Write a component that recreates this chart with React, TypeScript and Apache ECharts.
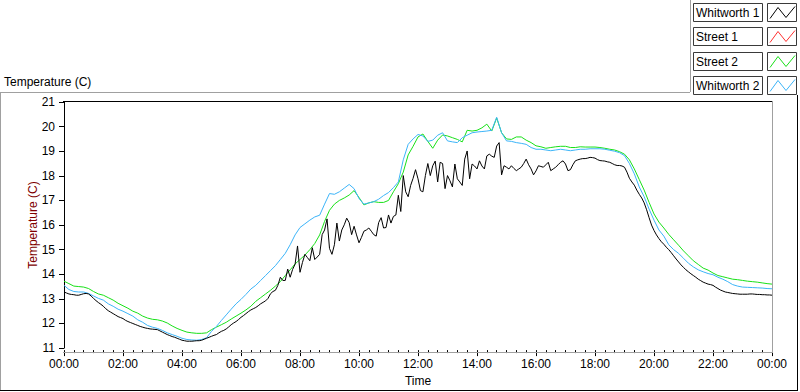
import React, { useEffect, useRef } from "react";
import * as echarts from "echarts";

// Whitworth 1: 5-minute samples from 00:00 to 24:00 (289 values)
const whitworth1Step = 5;
const whitworth1 = [
  // 00:00
  13.28, 13.24, 13.20, 13.18, 13.17, 13.15,
  13.15, 13.18, 13.21, 13.22, 13.20, 13.12,
  // 01:00
  13.02, 12.93, 12.85, 12.78, 12.70, 12.60,
  12.52, 12.46, 12.40, 12.34, 12.28, 12.24,
  // 02:00
  12.20, 12.13, 12.08, 12.04, 12.00, 11.96,
  11.92, 11.88, 11.85, 11.82, 11.80, 11.78,
  // 03:00
  11.77, 11.76, 11.75, 11.70, 11.65, 11.60,
  11.55, 11.51, 11.47, 11.44, 11.40, 11.36,
  // 04:00
  11.32, 11.30, 11.28, 11.28, 11.28, 11.29,
  11.30, 11.30, 11.32, 11.36, 11.40, 11.44,
  // 05:00
  11.48, 11.52, 11.55, 11.62, 11.68, 11.72,
  11.78, 11.86, 11.95, 12.02, 12.08, 12.16,
  // 06:00
  12.25, 12.32, 12.40, 12.48, 12.55, 12.60,
  12.65, 12.72, 12.80, 12.86, 12.92, 13.02,
  // 07:00
  13.21, 13.30, 13.35, 13.55, 13.88, 13.75,
  13.75, 14.21, 13.88, 14.20, 14.41, 15.15,
  // 08:00
  14.08, 14.48, 14.81, 14.68, 14.55, 15.08,
  14.60, 14.70, 14.81, 15.61, 15.80, 16.25,
  // 09:00
  15.05, 14.81, 15.20, 16.08, 15.35, 15.80,
  16.01, 16.28, 16.10, 15.61, 15.95, 15.60,
  // 10:00
  15.28, 15.50, 15.75, 15.80, 15.88, 15.75,
  15.61, 15.55, 16.10, 16.30, 15.88, 15.90,
  // 11:00
  16.41, 16.08, 16.35, 16.41, 17.21, 16.55,
  18.01, 17.35, 17.15, 17.61, 17.90, 18.25,
  // 12:00
  17.88, 17.40, 17.35, 18.01, 18.50, 18.01,
  18.41, 18.60, 17.75, 18.55, 18.50, 17.48,
  // 13:00
  18.01, 17.80, 17.55, 18.48, 17.88, 17.75,
  17.61, 18.68, 19.01, 17.88, 18.48, 18.40,
  // 14:00
  18.28, 18.61, 18.40, 18.28, 18.81, 18.88,
  18.80, 18.75, 19.21, 19.35, 18.04, 18.41,
  // 15:00
  18.35, 18.28, 18.41, 18.30, 18.21, 18.28,
  18.35, 18.50, 18.68, 18.45, 18.28, 18.04,
  // 16:00
  18.20, 18.41, 18.38, 18.35, 18.45, 18.55,
  18.21, 18.28, 18.35, 18.45, 18.55, 18.61,
  // 17:00
  18.48, 18.21, 18.25, 18.45, 18.61, 18.65,
  18.68, 18.70, 18.70, 18.72, 18.75, 18.74,
  // 18:00
  18.72, 18.66, 18.62, 18.61, 18.60, 18.57,
  18.55, 18.50, 18.45, 18.42, 18.42, 18.40,
  // 19:00
  18.35, 18.15, 17.90, 17.75, 17.62, 17.42,
  17.25, 17.10, 16.90, 16.62, 16.30, 16.00,
  // 20:00
  15.78, 15.60, 15.45, 15.32, 15.22, 15.10,
  15.00, 14.88, 14.75, 14.62, 14.50, 14.38,
  // 21:00
  14.28, 14.18, 14.10, 14.02, 13.95, 13.88,
  13.80, 13.74, 13.68, 13.64, 13.60, 13.58,
  // 22:00
  13.55, 13.48, 13.42, 13.36, 13.32, 13.28,
  13.26, 13.24, 13.22, 13.21, 13.20, 13.19,
  // 23:00
  13.19, 13.19, 13.19, 13.20, 13.20, 13.19,
  13.18, 13.18, 13.17, 13.17, 13.16, 13.16,
  // 24:00
  13.15,
];

// Street 1 has no visible trace in the reference
const street1Step = 10;
const street1: number[] = [];

// Street 2: 10-minute samples (145 values)
const street2Step = 10;
const street2 = [
  13.72, 13.62, 13.52, 13.50, 13.48, 13.42,
  13.30, 13.20, 13.15, 13.05, 12.95, 12.82,
  12.72, 12.62, 12.50, 12.42, 12.30, 12.22,
  12.17, 12.15, 12.10, 12.02, 11.90, 11.80,
  11.72, 11.65, 11.62, 11.60, 11.60, 11.62,
  11.75, 11.85, 11.95, 12.05, 12.18, 12.30,
  12.42, 12.55, 12.70, 12.90, 13.05, 13.20,
  13.35, 13.52, 13.70, 13.95, 14.18, 14.42,
  14.60, 14.78, 15.00, 15.25, 15.60, 16.15,
  16.60, 16.85, 17.00, 17.10, 17.22, 17.40,
  17.12, 16.82, 16.90, 16.95, 16.92, 16.92,
  17.00, 17.35, 17.68, 18.15, 18.85, 19.20,
  19.58, 19.70, 19.40, 19.12, 19.45, 19.66,
  19.62, 19.55, 19.48, 19.38, 19.85, 19.82,
  19.85, 19.95, 20.10, 19.82, 20.35, 19.75,
  19.50, 19.48, 19.58, 19.58, 19.45, 19.35,
  19.22, 19.18, 19.12, 19.15, 19.18, 19.20,
  19.20, 19.15, 19.15, 19.18, 19.17, 19.17,
  19.17, 19.15, 19.12, 19.08, 19.05, 18.98,
  18.88, 18.65, 18.28, 17.85, 17.42, 16.92,
  16.45, 16.12, 15.88, 15.62, 15.40, 15.18,
  14.95, 14.75, 14.55, 14.40, 14.25, 14.17,
  14.05, 13.95, 13.90, 13.85, 13.80, 13.78,
  13.75, 13.72, 13.70, 13.68, 13.65, 13.62,
  13.60,
];

// Whitworth 2: 10-minute samples (145 values)
const whitworth2Step = 10;
const whitworth2 = [
  13.55, 13.38, 13.30, 13.28, 13.28, 13.22,
  13.12, 13.02, 12.95, 12.80, 12.70, 12.58,
  12.50, 12.40, 12.30, 12.15, 12.05, 11.92,
  11.85, 11.80, 11.72, 11.62, 11.55, 11.48,
  11.40, 11.35, 11.33, 11.32, 11.35, 11.42,
  11.68, 11.88, 12.12, 12.35, 12.58, 12.80,
  12.98, 13.18, 13.40, 13.55, 13.75, 13.95,
  14.15, 14.35, 14.60, 14.85, 15.20, 15.60,
  15.90, 16.05, 16.20, 16.33, 16.40, 16.85,
  17.28, 17.25, 17.35, 17.50, 17.65, 17.48,
  17.08, 16.85, 16.90, 16.95, 17.05, 17.20,
  17.32, 17.52, 17.75, 18.65, 19.28, 19.50,
  19.68, 19.62, 19.40, 19.45, 19.65, 19.75,
  19.42, 19.38, 19.35, 19.55, 19.65, 19.75,
  19.78, 19.80, 19.82, 19.85, 20.38, 19.75,
  19.42, 19.40, 19.35, 19.32, 19.28, 19.15,
  19.08, 19.08, 19.05, 19.02, 19.05, 19.08,
  19.05, 19.02, 19.05, 19.08, 19.08, 19.10,
  19.10, 19.10, 19.08, 19.04, 19.00, 18.94,
  18.82, 18.50, 18.08, 17.55, 17.15, 16.65,
  16.20, 15.80, 15.55, 15.20, 15.00, 14.85,
  14.65, 14.45, 14.30, 14.18, 14.10, 14.03,
  13.98, 13.88, 13.80, 13.70, 13.58, 13.52,
  13.48, 13.47, 13.46, 13.45, 13.44, 13.42,
  13.41,
];

const seriesNames = ["Whitworth 1", "Street 1", "Street 2", "Whitworth 2"];
const seriesColors = ["#000000", "#ff3030", "#18e018", "#3cb4f8"];
const seriesValues = [whitworth1, street1, street2, whitworth2];
const seriesSteps = [whitworth1Step, street1Step, street2Step, whitworth2Step];

const yMin = 11;
const yMax = 21;
const xMaxMinutes = 1440;

const FONT = "'Liberation Sans', Arial, sans-serif";

function pad(n: number) {
  return n < 10 ? "0" + n : String(n);
}

export default function App() {
  const ref = useRef<HTMLDivElement>(null);

  useEffect(() => {
    if (!ref.current) return;
    const chart = echarts.init(ref.current, undefined, { renderer: "svg" });

    const series = seriesNames.map((name, i) => ({
      name,
      type: "line",
      data: seriesValues[i].map((v, k) => [k * seriesSteps[i], v]),
      showSymbol: false,
      symbol: "none",
      lineStyle: { color: seriesColors[i], width: 1 },
      itemStyle: { color: seriesColors[i] },
      z: i === 0 ? 5 : 3,
    }));

    const legendGraphics: any[] = [];
    seriesNames.forEach((name, i) => {
      const y0 = Math.round(3 + i * 24.3) + 0.5;
      legendGraphics.push({
        type: "rect",
        shape: { x: 693.5, y: y0, width: 69, height: 18 },
        style: { fill: "#ffffff", stroke: "#3a3a3a", lineWidth: 1 },
      });
      legendGraphics.push({
        type: "text",
        x: 696,
        y: y0 + 9.5,
        style: {
          text: name,
          fill: "#000000",
          font: `12px ${FONT}`,
          verticalAlign: "middle",
          align: "left",
        },
      });
      legendGraphics.push({
        type: "rect",
        shape: { x: 767.5, y: y0, width: 29, height: 18 },
        style: { fill: "#ffffff", stroke: "#3a3a3a", lineWidth: 1 },
      });
      legendGraphics.push({
        type: "polyline",
        shape: {
          points: [
            [770, y0 + 15],
            [778, y0 + 4],
            [786, y0 + 14],
            [795, y0 + 3],
          ],
        },
        style: { stroke: seriesColors[i], lineWidth: 1, fill: "none" },
      });
    });

    const option: any = {
      animation: false,
      backgroundColor: "#ffffff",
      textStyle: { fontFamily: FONT },
      grid: { left: 64, right: 28, top: 102, bottom: 40, containLabel: false },
      xAxis: {
        type: "value",
        min: 0,
        max: xMaxMinutes,
        interval: 120,
        offset: 2,
        name: "Time",
        nameLocation: "middle",
        nameGap: 23,
        nameTextStyle: { color: "#000000", fontSize: 12, fontFamily: FONT },
        axisLine: { show: false },
        axisTick: { show: true, length: 6, lineStyle: { color: "#000000" } },
        minorTick: { show: true, splitNumber: 6, length: 3, lineStyle: { color: "#000000" } },
        splitLine: { show: false },
        minorSplitLine: { show: false },
        axisLabel: {
          color: "#000000",
          fontSize: 12,
          fontFamily: FONT,
          margin: 8,
          formatter: (m: number) => pad(Math.floor(m / 60) % 24) + ":" + pad(m % 60),
        },
      },
      yAxis: {
        type: "value",
        min: yMin,
        max: yMax,
        interval: 1,
        name: "Temperature (C)",
        nameLocation: "middle",
        nameGap: 25,
        nameMoveOverlap: false,
        nameTextStyle: { color: "#800000", fontSize: 12, fontFamily: FONT },
        axisLine: { show: true, lineStyle: { color: "#000000", width: 1 } },
        axisTick: { show: true, length: 5, lineStyle: { color: "#000000" } },
        splitLine: { show: false },
        axisLabel: { color: "#000000", fontSize: 12, fontFamily: FONT, margin: 9 },
      },
      series,
      graphic: [
        // outer sunken frame
        { type: "line", shape: { x1: 0, y1: 92.5, x2: 690, y2: 92.5 }, style: { stroke: "#a0a0a0", lineWidth: 1 } },
        { type: "line", shape: { x1: 0.5, y1: 92, x2: 0.5, y2: 390 }, style: { stroke: "#a0a0a0", lineWidth: 1 } },
        { type: "line", shape: { x1: 0, y1: 390.5, x2: 798, y2: 390.5 }, style: { stroke: "#000000", lineWidth: 1 } },
        { type: "line", shape: { x1: 797.5, y1: 95, x2: 797.5, y2: 391 }, style: { stroke: "#000000", lineWidth: 1 } },
        { type: "line", shape: { x1: 690.5, y1: 0, x2: 690.5, y2: 92 }, style: { stroke: "#a0a0a0", lineWidth: 1 } },
        // plot area frame
        { type: "line", shape: { x1: 63, y1: 101.5, x2: 773, y2: 101.5 }, style: { stroke: "#000000", lineWidth: 1 }, z: 10 },
        { type: "line", shape: { x1: 772.5, y1: 101, x2: 772.5, y2: 353 }, style: { stroke: "#a0a0a0", lineWidth: 1 }, z: 10 },
        { type: "line", shape: { x1: 63, y1: 352.5, x2: 773, y2: 352.5 }, style: { stroke: "#a0a0a0", lineWidth: 1 }, z: 10 },
        // top-left title
        {
          type: "text",
          x: 4,
          y: 76,
          style: { text: "Temperature (C)", fill: "#000000", font: `12px ${FONT}` },
        },
        ...legendGraphics,
      ],
    };

    chart.setOption(option);
    return () => chart.dispose();
  }, []);

  return (
    <div
      ref={ref}
      style={{ position: "fixed", left: 0, top: 0, width: 800, height: 392 }}
    />
  );
}
